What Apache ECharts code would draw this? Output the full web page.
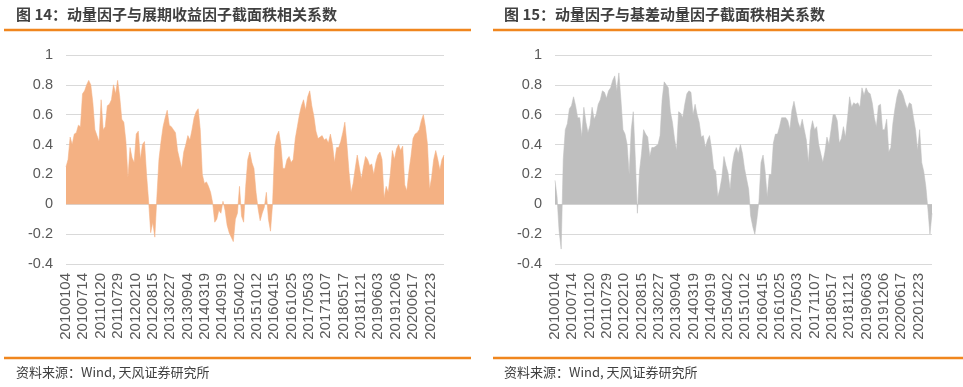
<!DOCTYPE html>
<html><head><meta charset="utf-8">
<script src="https://cdn.jsdelivr.net/npm/echarts@6/dist/echarts.min.js"></script>
<style>html,body{margin:0;padding:0;background:#fff}#c{width:963px;height:387px}</style>
</head><body><div id="c"></div>
<script>
const titleLeft = '图 14：动量因子与展期收益因子截面秩相关系数';
const titleRight = '图 15：动量因子与基差动量因子截面秩相关系数';
const sourceText = '资料来源：Wind, 天风证券研究所';
const dateLabels = ['20100104','20100714','20110120','20110729','20120210','20120815','20130227','20130904','20140319','20140919','20150402','20151012','20160415','20161025','20170503','20171107','20180517','20181121','20190603','20191206','20200617','20201223'];
const yTicks = [-0.4, 1, 0.2];
// 展期收益因子 rank correlation
const rollYieldCorr = [
0.25,0.30,0.45,0.40,0.47,0.48,0.53,0.52,0.74,0.76,
0.80,0.83,0.80,0.68,0.50,0.46,0.42,0.70,0.50,0.52,
0.66,0.67,0.70,0.80,0.74,0.83,0.72,0.57,0.55,0.42,
0.18,0.38,0.31,0.28,0.47,0.49,0.30,0.40,0.42,0.20,
0.02,-0.19,-0.12,-0.22,0.05,0.30,0.42,0.52,0.58,0.63,
0.53,0.52,0.50,0.48,0.36,0.30,0.24,0.35,0.40,0.46,
0.43,0.50,0.58,0.62,0.64,0.50,0.20,0.14,0.15,0.12,
0.08,0.01,-0.12,-0.10,-0.04,-0.06,0.02,-0.04,-0.14,-0.19,
-0.22,-0.25,-0.10,-0.06,0.12,-0.08,-0.12,0.12,0.30,0.35,
0.28,0.24,0.08,-0.03,-0.11,-0.06,-0.02,0.08,-0.10,-0.18,
0.00,0.38,0.46,0.49,0.40,0.24,0.24,0.30,0.32,0.28,
0.30,0.44,0.52,0.60,0.66,0.70,0.63,0.72,0.76,0.66,
0.59,0.49,0.44,0.45,0.46,0.43,0.44,0.41,0.47,0.40,
0.28,0.38,0.38,0.42,0.48,0.55,0.40,0.22,0.08,0.14,
0.24,0.33,0.25,0.17,0.25,0.32,0.30,0.26,0.27,0.20,
0.28,0.33,0.35,0.30,0.04,0.12,0.08,0.20,0.36,0.30,
0.37,0.40,0.36,0.39,0.13,0.09,0.22,0.32,0.44,0.47,
0.48,0.50,0.56,0.60,0.52,0.40,0.10,0.18,0.30,0.36,
0.30,0.23,0.30,0.33];
// 基差动量因子 rank correlation
const basisMomCorr = [
0.16,0.05,-0.18,-0.30,0.30,0.50,0.54,0.64,0.66,0.72,
0.66,0.58,0.58,0.45,0.65,0.55,0.48,0.53,0.65,0.57,
0.60,0.67,0.70,0.76,0.75,0.71,0.76,0.78,0.83,0.86,
0.76,0.88,0.70,0.50,0.47,0.40,0.20,0.50,0.62,0.30,
-0.06,0.22,0.34,0.50,0.47,0.45,0.32,0.38,0.38,0.39,
0.40,0.46,0.70,0.82,0.80,0.78,0.62,0.55,0.44,0.36,
0.62,0.61,0.58,0.67,0.74,0.76,0.75,0.60,0.67,0.60,
0.55,0.45,0.46,0.38,0.43,0.46,0.37,0.24,0.22,0.05,
0.10,0.18,0.32,0.26,0.21,0.10,0.26,0.34,0.38,0.34,
0.40,0.34,0.24,0.17,0.10,-0.08,-0.15,-0.20,-0.10,0.02,
0.28,0.33,0.22,0.05,0.20,0.20,0.41,0.47,0.47,0.52,
0.58,0.58,0.58,0.56,0.50,0.63,0.69,0.62,0.55,0.51,
0.57,0.50,0.43,0.28,0.49,0.56,0.50,0.52,0.40,0.34,
0.28,0.35,0.45,0.40,0.50,0.60,0.60,0.56,0.41,0.44,
0.52,0.45,0.58,0.72,0.65,0.68,0.67,0.68,0.65,0.78,
0.73,0.78,0.75,0.74,0.68,0.58,0.52,0.66,0.67,0.50,
0.50,0.57,0.35,0.38,0.54,0.64,0.72,0.77,0.76,0.73,
0.68,0.64,0.68,0.67,0.58,0.50,0.36,0.50,0.28,0.22,
0.12,-0.03,-0.20,-0.06];

const labelStep = 8.4;
const chart = echarts.init(document.getElementById('c'), null, {renderer:'canvas'});
const ORANGE = '#F0861E';
const numFont = '"Liberation Sans", Arial, sans-serif';
const cjkFont = '"Noto Sans CJK SC", "Liberation Sans", sans-serif';

function xAxisCfg(gi, n){
  return {
    gridIndex: gi, type:'value', min:0, max:n-1, interval:labelStep,
    axisLine:{show:false}, axisTick:{show:false}, splitLine:{show:false},
    axisLabel:{rotate:90, margin:9, color:'#595959', fontSize:15, fontFamily:numFont,
      showMaxLabel:false,
      formatter: v => { const k = Math.round(v/labelStep); return (Math.abs(v - k*labelStep) < 0.01 && dateLabels[k]) ? dateLabels[k] : ''; }}
  };
}
function yAxisCfg(gi){
  return {
    gridIndex: gi, type:'value', min:yTicks[0], max:yTicks[1], interval:yTicks[2],
    axisLine:{show:false}, axisTick:{show:false},
    splitLine:{lineStyle:{color:'#D9D9D9', width:1}},
    axisLabel:{margin:13, color:'#595959', fontSize:14.5, fontFamily:numFont,
      formatter: v => String(Math.round(v*10)/10)}
  };
}
function areaSeries(gi, vals, color){
  return {
    type:'line', xAxisIndex:gi, yAxisIndex:gi, showSymbol:false, animation:false,
    data: vals.map((v,i)=>[i,v]),
    lineStyle:{width:1, color:color, opacity:0.55},
    areaStyle:{color:color, opacity:1, origin:0},
    silent:true
  };
}
const textStyleTitle = {fill:'#404040', font:'bold 15px ' + cjkFont, textVerticalAlign:'middle'};
const textStyleSrc = {fill:'#404040', font:'13px ' + cjkFont, textVerticalAlign:'middle'};

chart.setOption({
  animation:false,
  grid:[
    {left:66, top:55, width:378, height:209},
    {left:555, top:55, width:377, height:209}
  ],
  xAxis:[xAxisCfg(0, rollYieldCorr.length), xAxisCfg(1, basisMomCorr.length)],
  yAxis:[yAxisCfg(0), yAxisCfg(1)],
  series:[
    areaSeries(0, rollYieldCorr, '#F4B183'),
    areaSeries(1, basisMomCorr, '#BFBFBF')
  ],
  graphic:[
    {type:'text', left:16, top:7, style:{text:titleLeft, fill:'#404040', font:'bold 15px ' + cjkFont}},
    {type:'text', left:504, top:7, style:{text:titleRight, fill:'#404040', font:'bold 15px ' + cjkFont}},
    {type:'line', shape:{x1:4, y1:30, x2:471, y2:30}, style:{stroke:ORANGE, lineWidth:2.5}},
    {type:'line', shape:{x1:493, y1:30, x2:963, y2:30}, style:{stroke:ORANGE, lineWidth:2.5}},
    {type:'line', shape:{x1:4, y1:358, x2:471, y2:358}, style:{stroke:ORANGE, lineWidth:2.5}},
    {type:'line', shape:{x1:493, y1:358, x2:963, y2:358}, style:{stroke:ORANGE, lineWidth:2.5}},
    {type:'text', left:16, top:366, style:{text:sourceText, fill:'#404040', font:'13px ' + cjkFont}},
    {type:'text', left:504, top:366, style:{text:sourceText, fill:'#404040', font:'13px ' + cjkFont}}
  ]
});
</script></body></html>
